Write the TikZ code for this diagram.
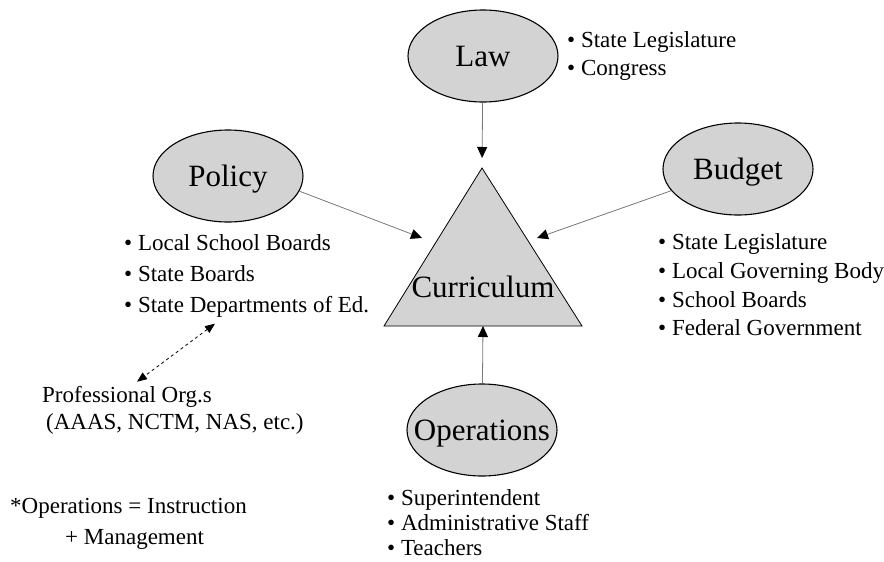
\documentclass[tikz,border=0pt]{standalone}
\usepackage{fontspec}
\setmainfont{Liberation Serif}
\usepackage{xcolor}
\definecolor{ovalgray}{RGB}{211, 211, 211}
\definecolor{linkgray}{RGB}{120, 120, 120}
\usepackage{tikz}
\usetikzlibrary{arrows.meta, shapes.geometric, positioning, calc}

\begin{document}
\begin{tikzpicture}[
    x=1pt, y=-1pt,
    topic/.style={draw, ellipse, line width=1.1pt, fill=ovalgray, minimum width=150pt, minimum height=92pt, inner sep=0pt, text height=21pt, text depth=0pt, font=\fontsize{31}{36}\selectfont},
    items/.style={anchor=west, align=left, inner sep=0pt, font=\fontsize{23}{28}\selectfont},
    arrow/.style={draw=linkgray, line width=0.8pt, -{Triangle[length=11pt, width=10pt, color=black]}},
    twoway/.style={dashed, line width=0.8pt, {Triangle[length=10pt, width=8pt]}-{Triangle[length=10pt, width=8pt]}}
]
\useasboundingbox (0,0) rectangle (884,562);

% Curriculum triangle
\draw[fill=ovalgray, line width=0.8pt] (482,168) coordinate (apex) -- (582,326) coordinate (br) -- (384,326) coordinate (bl) -- cycle;
\node[inner sep=0pt, anchor=base, font=\fontsize{31}{36}\selectfont] (curr) at (483,297) {Curriculum};
\coordinate (basemid) at ($(bl)!0.5!(br)$);
\coordinate (policyin) at (422,238);
\coordinate (budgetin) at (537,238);

% Law
\node[topic] (law) at (483,56) {\makebox[0pt]{Law}};
\node[items] (lawlist) at (567,56) {\textbullet~State Legislature\\ \textbullet~Congress};

% Policy
\node[topic] (policy) at (228,176) {\makebox[0pt]{Policy}};
\node[items, font=\fontsize{23}{31}\selectfont] (policylist) at (124,276) {
    \textbullet~Local School Boards\\
    \textbullet~State Boards\\
    \textbullet~State Departments of Ed.
};

% Budget
\node[topic] (budget) at (738,169) {\makebox[0pt]{Budget}};
\node[items, font=\fontsize{23}{28.7}\selectfont] (budgetlist) at (658,285) {
    \textbullet~State Legislature\\
    \textbullet~Local Governing Body\\
    \textbullet~School Boards\\
    \textbullet~Federal Government
};

% Operations
\node[topic] (ops) at (482,430) {\makebox[0pt]{Operations}};
\node[items, font=\fontsize{23}{25}\selectfont] (opslist) at (387,523) {
    \textbullet~Superintendent\\
    \textbullet~Administrative Staff\\
    \textbullet~Teachers
};

% Professional organisations and footnote
\node[items, font=\fontsize{23}{27}\selectfont] (prof) at (42,410) {Professional Org.s\\ \hspace*{4pt}(AAAS, NCTM, NAS, etc.)};
\node[items, font=\fontsize{23}{31}\selectfont] (note) at (10,524) {*Operations = Instruction\\ \hspace*{55pt}+ Management};

% Connecting Arrows
\draw[arrow, shorten >=10pt] (law) -- (apex);
\draw[arrow] (policy.-12) -- (policyin);
\draw[arrow] (budget.198) -- (budgetin);
\draw[arrow] (ops) -- (basemid);
\draw[twoway] ([xshift=91pt, yshift=-6pt]policylist.south west) -- ([xshift=95pt, yshift=4pt]prof.north west);

\end{tikzpicture}
\end{document}
